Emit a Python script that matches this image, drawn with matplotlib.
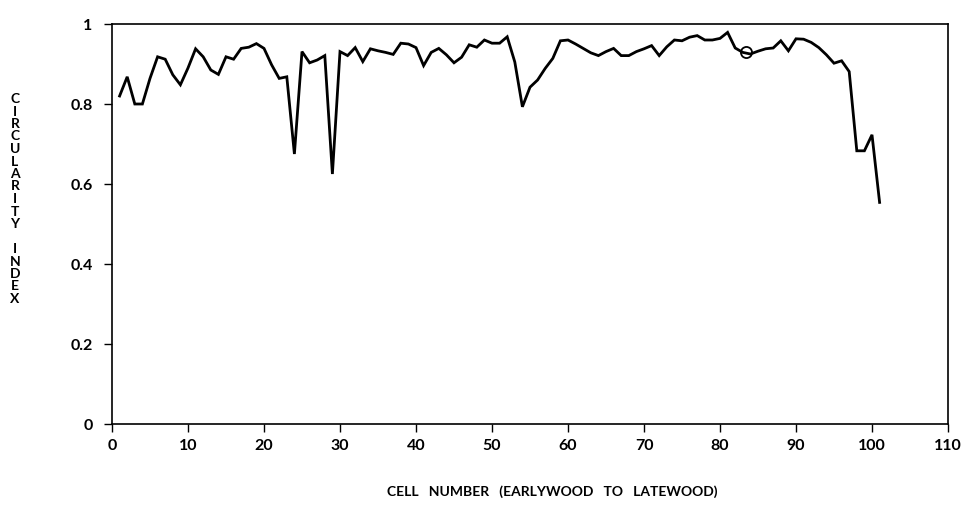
import matplotlib
matplotlib.use("Agg")
import matplotlib.pyplot as plt
import numpy as np

# circularity index per cell (cells 1..101)
cells = np.arange(1, 102)
circularity = [
    0.820, 0.868, 0.800, 0.800, 0.864, 0.918, 0.912, 0.873, 0.848, 0.890,
    0.938, 0.918, 0.885, 0.874, 0.918, 0.912, 0.939, 0.942, 0.951, 0.939,
    0.898, 0.864, 0.868, 0.675, 0.931, 0.903, 0.910, 0.921, 0.625, 0.931,
    0.921, 0.941, 0.906, 0.938, 0.933, 0.929, 0.924, 0.952, 0.950, 0.941,
    0.896, 0.929, 0.939, 0.923, 0.903, 0.917, 0.948, 0.942, 0.960, 0.952,
    0.952, 0.968, 0.905, 0.793, 0.842, 0.860, 0.889, 0.914, 0.958, 0.960,
    0.950, 0.939, 0.928, 0.921, 0.931, 0.939, 0.921, 0.921, 0.931, 0.938,
    0.946, 0.921, 0.943, 0.960, 0.958, 0.967, 0.971, 0.960, 0.960, 0.964,
    0.979, 0.940, 0.929, 0.925, 0.932, 0.938, 0.940, 0.958, 0.933, 0.963,
    0.962, 0.954, 0.941, 0.923, 0.902, 0.908, 0.881, 0.683, 0.683, 0.723,
    0.554,
]
marked_cell = 83.4
marked_value = 0.929

x_ticks = np.arange(0, 111, 10)
y_ticks = [0, 0.2, 0.4, 0.6, 0.8, 1]
y_tick_labels = ["0", "0.2", "0.4", "0.6", "0.8", "1"]

plt.rcParams["font.family"] = ["Lato", "DejaVu Sans"]
plt.rcParams["font.weight"] = "bold"

fig = plt.figure(figsize=(9.69, 5.16), dpi=100)
ax = fig.add_axes([112 / 969, 1 - 424 / 516, (948 - 112) / 969, 400 / 516])

ax.plot(cells, circularity, color="black", linewidth=2.0, solid_joinstyle="miter")
ax.plot([marked_cell], [marked_value], "o", markerfacecolor="none",
        markeredgecolor="black", markersize=8, markeredgewidth=1.3)

ax.set_xlim(0, 110)
ax.set_ylim(0, 1)
ax.set_xticks(x_ticks)
ax.set_yticks(y_ticks)
ax.set_yticklabels(y_tick_labels)
ax.tick_params(direction="out", length=6, width=1, labelsize=11.5, colors="black")
ax.tick_params(axis="y", pad=8)
ax.tick_params(axis="x", pad=5)
for s in ax.spines.values():
    s.set_linewidth(1.2)
    s.set_color("black")

# stacked vertical axis title
ylabel = "\n".join("CIRCULARITY INDEX")
fig.text(15 / 969, 1 - 199 / 516, ylabel, ha="center", va="center",
         fontsize=10, fontweight="bold", linespacing=1.05)

fig.text(552 / 969, 1 - 492 / 516, "CELL   NUMBER   (EARLYWOOD   TO   LATEWOOD)",
         ha="center", va="center", fontsize=10, fontweight="bold")

fig.savefig("out.png", dpi=100)
